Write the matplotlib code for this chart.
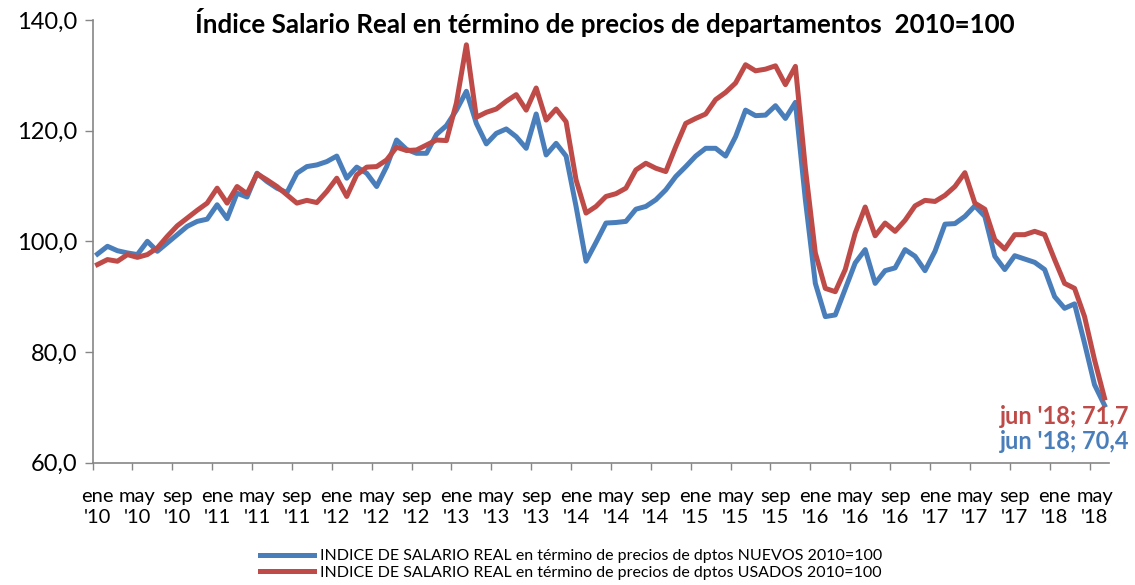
import numpy as np
import matplotlib
matplotlib.use('Agg')
import matplotlib.pyplot as plt

plt.rcParams['font.family'] = ['Lato', 'DejaVu Sans']

# índice mensual ene 2010 - jun 2018
nuevos = [97.7, 99.1, 98.3, 97.9, 97.6, 100.0, 98.2, 99.7, 101.2, 102.7, 103.6, 104.0,
          106.6, 104.1, 108.7, 108.0, 112.3, 110.8, 109.6, 108.8, 112.3, 113.5, 113.8, 114.4,
          115.4, 111.4, 113.4, 112.3, 109.9, 113.5, 118.3, 116.6, 115.9, 115.9, 119.3, 120.9,
          123.7, 127.1, 121.3, 117.6, 119.5, 120.3, 118.9, 116.8, 123.0, 115.6, 117.7, 115.4,
          106.3, 96.4, 99.8, 103.3, 103.4, 103.6, 105.8, 106.3, 107.5, 109.3, 111.7, 113.5,
          115.4, 116.8, 116.8, 115.4, 118.9, 123.7, 122.7, 122.8, 124.5, 122.2, 125.1, 107.5,
          92.4, 86.4, 86.7, 91.4, 96.1, 98.5, 92.4, 94.7, 95.2, 98.5, 97.3, 94.7,
          98.2, 103.1, 103.2, 104.5, 106.4, 104.5, 97.3, 94.9, 97.4, 96.8, 96.2, 94.9,
          90.0, 87.9, 88.7, 81.6, 74.1, 70.4]
usados = [95.8, 96.7, 96.4, 97.6, 97.1, 97.6, 98.8, 100.9, 102.8, 104.2, 105.6, 106.9,
          109.6, 106.9, 109.9, 108.6, 112.2, 111.1, 109.9, 108.4, 106.9, 107.4, 107.0, 109.0,
          111.4, 108.1, 112.0, 113.4, 113.5, 114.7, 117.0, 116.4, 116.5, 117.4, 118.3, 118.2,
          125.0, 135.5, 122.4, 123.3, 123.9, 125.3, 126.5, 123.7, 127.7, 121.9, 123.9, 121.6,
          111.1, 105.1, 106.3, 108.1, 108.6, 109.6, 112.9, 114.1, 113.2, 112.6, 117.1, 121.3,
          122.2, 123.0, 125.6, 126.9, 128.6, 131.9, 130.8, 131.1, 131.7, 128.3, 131.6, 113.2,
          97.9, 91.5, 90.9, 94.9, 101.5, 106.2, 101.0, 103.3, 101.8, 103.8, 106.4, 107.4,
          107.2, 108.3, 109.9, 112.4, 106.9, 105.8, 100.3, 98.6, 101.2, 101.2, 101.8, 101.2,
          96.7, 92.4, 91.5, 86.4, 78.6, 71.7]

meses = ['ene', 'may', 'sep']
anios = ['10', '11', '12', '13', '14', '15', '16', '17', '18']
tick_labels = [f"{m}\n'{a}" for a in anios for m in meses][:26]

label_nuevos = 'INDICE DE SALARIO REAL en término de precios de dptos NUEVOS 2010=100'
label_usados = 'INDICE DE SALARIO REAL en término de precios de dptos USADOS 2010=100'

AZUL = '#4a7ebb'
ROJO = '#be4b48'
GRIS = '#868686'

x = np.arange(len(nuevos))

fig = plt.figure(figsize=(11.35, 5.85), dpi=100)
ax = fig.add_axes([0.0815, 0.209, 0.896, 0.757])

l1, = ax.plot(x, nuevos, color=AZUL, lw=3.6, solid_joinstyle='round')
l2, = ax.plot(x, usados, color=ROJO, lw=3.6, solid_joinstyle='round')

ax.set_xlim(-0.5, len(x) - 0.5)
ax.set_ylim(60, 140)
ax.set_yticks([60, 80, 100, 120, 140])
ax.set_yticklabels(['60,0', '80,0', '100,0', '120,0', '140,0'], fontsize=17)

ax.set_xticks(np.arange(0, len(x), 4) - 0.5)
ax.set_xticklabels([])
ax.set_xticks(np.arange(0, len(x), 4), minor=True)
ax.set_xticklabels(tick_labels, minor=True, fontsize=14.5, linespacing=1.3)
ax.tick_params(axis='x', which='major', length=5, width=1, color=GRIS, direction='out')
ax.tick_params(axis='x', which='minor', length=0, pad=18)
ax.tick_params(axis='y', length=6, width=1, color=GRIS, pad=5)

for s in ['top', 'right']:
    ax.spines[s].set_visible(False)
for s in ['left', 'bottom']:
    ax.spines[s].set_color(GRIS)
    ax.spines[s].set_linewidth(1.2)

# etiquetas del último dato
ult = len(x) - 1
ax.annotate(f"jun '18; {usados[ult]:.1f}".replace('.', ','), (ult, usados[ult]),
            xytext=(-29, -13), textcoords='offset points', ha='center', va='center',
            fontsize=17, fontweight='bold', color=ROJO, annotation_clip=False)
ax.annotate(f"jun '18; {nuevos[ult]:.1f}".replace('.', ','), (ult, nuevos[ult]),
            xytext=(-29, -26), textcoords='offset points', ha='center', va='center',
            fontsize=17, fontweight='bold', color=AZUL, annotation_clip=False)

fig.text(0.533, 0.962, 'Índice Salario Real en término de precios de departamentos  2010=100',
         ha='center', va='center', fontsize=18.7, fontweight='bold')

fig.legend([l1, l2], [label_nuevos, label_usados], loc='upper left',
           bbox_to_anchor=(0.222, 0.075), frameon=False, fontsize=11.5,
           handlelength=3.4, handletextpad=0.35, labelspacing=0.15, borderpad=0)

fig.savefig('out.png', dpi=100)
